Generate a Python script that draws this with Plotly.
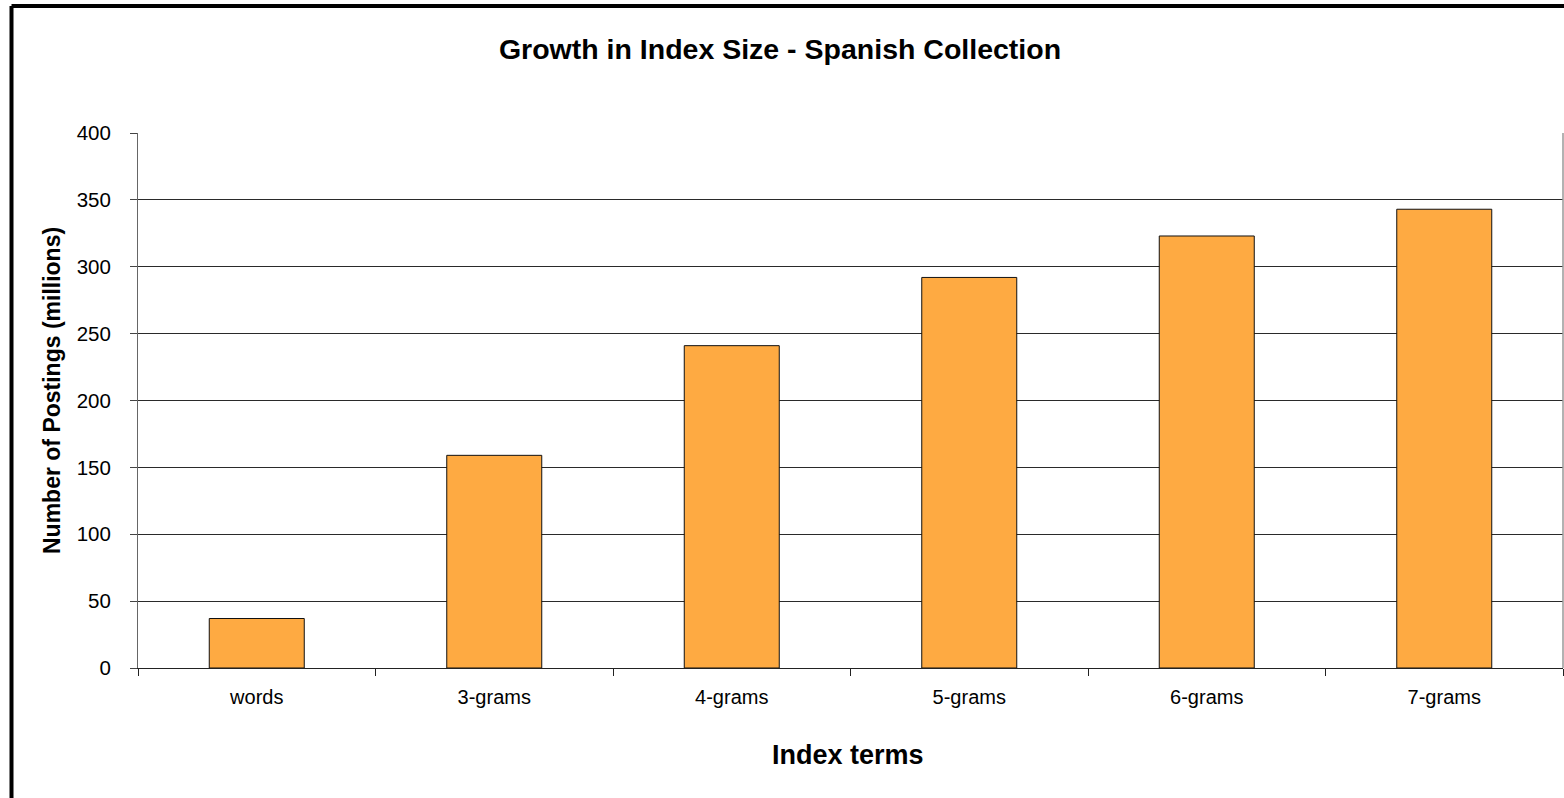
import plotly.graph_objects as go

categories = ["words", "3-grams", "4-grams", "5-grams", "6-grams", "7-grams"]
postings_millions = [37, 159, 241, 292, 323, 343]
y_ticks = [0, 50, 100, 150, 200, 250, 300, 350, 400]

FONT = "Liberation Sans, Arial, sans-serif"

fig = go.Figure()
fig.add_trace(go.Bar(
    x=categories,
    y=postings_millions,
    width=0.4,
    marker=dict(color="#FEAA42", line=dict(color="#111111", width=1)),
))

W, H = 1564, 798
L, R, T, B = 138, 1, 133, 130
pw = W - L - R
ph = H - T - B

fig.update_layout(
    width=W, height=H,
    margin=dict(l=L, r=R, t=T, b=B, autoexpand=False),
    paper_bgcolor="white",
    plot_bgcolor="white",
    showlegend=False,
    font=dict(family=FONT, color="black"),
    title=dict(
        text="<b>Growth in Index Size - Spanish Collection</b>",
        xref="container", x=780 / W, xanchor="center",
        yref="container", y=1 - 49 / H, yanchor="middle",
        font=dict(size=28.5, family=FONT),
    ),
)

fig.update_xaxes(
    type="category",
    showgrid=False,
    showline=True, linecolor="#222222", linewidth=1,
    ticks="outside", tickson="boundaries", ticklen=7, tickcolor="#222222",
    tickfont=dict(size=20, family=FONT),
    ticklabelstandoff=11,
    range=[-0.5, 5.5],
)
fig.update_yaxes(
    range=[0, 400],
    tickvals=y_ticks,
    showgrid=True, gridcolor="#2a2a2a", gridwidth=1,
    showline=True, linecolor="#666666", linewidth=1,
    ticks="outside", ticklen=7, tickcolor="#444444",
    tickfont=dict(size=20.5, family=FONT),
    ticklabelstandoff=15,
    zeroline=False,
)

# axis titles
fig.add_annotation(
    text="<b>Number of Postings (millions)</b>",
    xref="paper", yref="paper",
    x=(52 - L) / pw, y=(H - B - 391) / ph,
    textangle=-90, showarrow=False,
    font=dict(size=23, family=FONT),
    xanchor="center", yanchor="middle",
)
fig.add_annotation(
    text="<b>Index terms</b>",
    xref="paper", yref="paper",
    x=(848 - L) / pw, y=-(755 - (H - B)) / ph,
    showarrow=False,
    font=dict(size=27, family=FONT),
    xanchor="center", yanchor="middle",
)

# right-hand edge of the plot frame
fig.add_shape(type="line", xref="paper", yref="paper",
              x0=1, x1=1, y0=0, y1=1,
              line=dict(color="#999999", width=1.5))

# outer chart border (left and top edges)
bx = (11.5 - L) / pw
by = (H - B - 6) / ph
fig.add_shape(type="line", xref="paper", yref="paper",
              x0=bx, x1=bx, y0=by, y1=-(B + 20) / ph,
              line=dict(color="black", width=4))
fig.add_shape(type="line", xref="paper", yref="paper",
              x0=bx, x1=1.05, y0=by, y1=by,
              line=dict(color="black", width=4))

fig.write_html("out.html")
